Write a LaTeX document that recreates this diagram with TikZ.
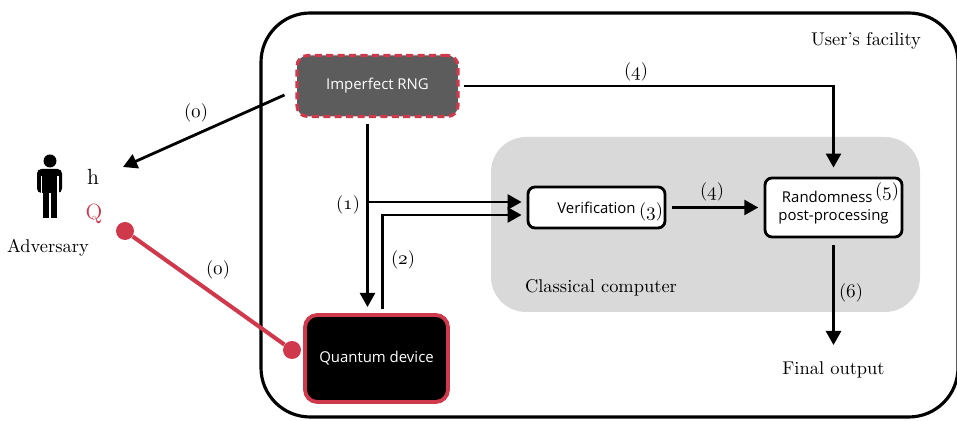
\documentclass[tikz,border=0pt]{standalone}
\usepackage{fontspec}
\newfontfamily\boxfont{Open Sans}
\usetikzlibrary{arrows.meta}
\definecolor{qred}{HTML}{D0384C}
\definecolor{rnggray}{HTML}{5C5C5C}
\definecolor{cgray}{HTML}{D9D9D9}
\newcommand\osn[1]{{\fontencoding{OML}\fontfamily{cmm}\fontseries{m}\fontshape{it}\selectfont#1}}
\begin{document}
\begin{tikzpicture}[x=0.02cm,y=-0.02cm,>={Triangle[length=8pt,width=8.5pt]},
  box/.style={draw,line width=1.6pt,rounded corners=4pt,fill=white,font=\boxfont\fontsize{8.5}{10}\selectfont},
  lbl/.style={font=\fontsize{10.5}{12}\selectfont},
  big/.style={font=\fontsize{10.5}{12}\selectfont},
  flow/.style={->,line width=1.6pt},
  dot/.style={circle,fill=qred,inner sep=0pt,minimum size=0.36cm}]
\useasboundingbox (0,0) rectangle (957,421);
% user's facility
\draw[line width=1.8pt,rounded corners=28pt] (261,13) rectangle (958,417);
\node[big] at (866,41) {User’s facility};
% classical computer
\fill[cgray,rounded corners=20pt] (491,137) rectangle (920,312);
\node[big] at (601,288) {Classical computer};
% boxes
\node[box,fill=rnggray,draw=qred,line width=1.8pt,dash pattern=on 4pt off 2.5pt,text=white,rounded corners=6pt,minimum width=3.22cm,minimum height=1.22cm] (rng) at (377.5,86) {Imperfect RNG};
\node[box,fill=black,draw=qred,line width=2.2pt,text=white,rounded corners=7pt,minimum width=2.86cm,minimum height=1.74cm] (qd) at (376.5,358.5) {Quantum device};
\node[box,minimum width=2.74cm,minimum height=0.82cm] (verif) at (596.5,207.5) {Verification};
\node[box,minimum width=2.74cm,minimum height=1.18cm,align=center] (post) at (833.5,207.5) {\hspace*{-0.25cm}Randomness\\post-processing};
\node[lbl] at (651,212) {(\osn{3})};
\node[lbl] at (887,192) {(\osn{5})};
\node[big] (final) at (833.5,370) {Final output};
% adversary
\fill (50,161) circle (6.5);
\fill[rounded corners=2.5pt] (37,169) rectangle (62,193);
\fill (42.5,185) rectangle (49,218);
\fill (50.5,185) rectangle (56.5,218);
\draw[white,line width=0.7pt] (41.5,176) -- (41.5,194) (58,176) -- (58,194);
\node[font=\fontsize{12.5}{14}\selectfont] (h) at (93,177) {h};
\node[font=\fontsize{12.5}{14}\selectfont,text=qred] (q) at (94,214) {Q};
\node[big] (adv) at (48,248) {Adversary};
% connectors
\coordinate (advin) at (123,167);
\draw[flow] ([shift={(-11,9)}]rng.west) -- (advin);
\node[lbl] at (196,113) {(\osn{0})};
\node[dot] (qa) at (125,231) {};
\node[dot] (qb) at (292,350) {};
\draw[qred,line width=2.3pt] (qa) -- (qb);
\node[lbl] at (218,270) {(\osn{0})};
\draw[flow] ([shift={(-10,6)}]rng.south) coordinate (top1) -- (top1 |- 0,307);
\draw[flow] (top1 |- 0,202) -- ([shift={(-5,-5.5)}]verif.west);
\node[lbl] at (348,205) {(\osn{1})};
\draw[flow] ([shift={(6,-4)}]qd.north) |- ([shift={(-5,7.5)}]verif.west);
\node[lbl] at (403,260) {(\osn{2})};
\draw[flow] ([shift={(4,0)}]rng.east) -| ([shift={(0,-9)}]post.north);
\node[lbl] at (636,72) {(\osn{4})};
\draw[flow,shorten <=3pt,shorten >=3pt] (verif) -- (post);
\node[lbl] at (712,192) {(\osn{4})};
\draw[flow,shorten <=4pt,shorten >=6pt] (post) -- (final);
\node[lbl] at (851,293) {(\osn{6})};
\end{tikzpicture}
\end{document}
